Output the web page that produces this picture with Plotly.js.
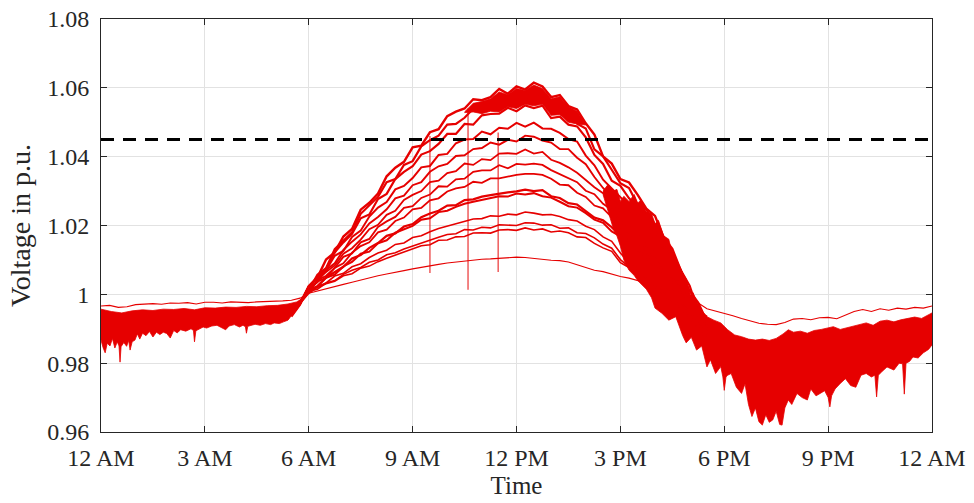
<!DOCTYPE html>
<html>
<head>
<meta charset="utf-8">
<script src="https://cdn.plot.ly/plotly-3.0.1.min.js"></script>
<style>html,body{margin:0;padding:0;background:#fff;}#chart{width:974px;height:503px;}</style>
</head>
<body>
<div id="chart"></div>
<script>
// ---------- data (hours since midnight, voltage in p.u.) ----------
const xTickVals = [0, 3, 6, 9, 12, 15, 18, 21, 24];
const xTickText = ['12 AM', '3 AM', '6 AM', '9 AM', '12 PM', '3 PM', '6 PM', '9 PM', '12 AM'];
const yTickVals = [0.96, 0.98, 1.00, 1.02, 1.04, 1.06, 1.08];
const yTickText = ['0.96', '0.98', '1', '1.02', '1.04', '1.06', '1.08'];
const voltageLimit = 1.045;

const dayT = [5.5,5.75,6,6.25,6.5,6.75,7,7.25,7.5,7.75,8,8.25,8.5,8.75,9,9.25,9.5,9.75,10,10.25,10.5,10.75,11,11.25,11.5,11.75,12,12.25,12.5,12.75,13,13.25,13.5,13.75,14,14.25,14.5,14.75,15,15.25,15.5,15.75,16,16.25,16.5,16.75,17,17.25,17.5];

const bus11 = [0.9950,0.9975,1.0023,1.0049,1.0101,1.0122,1.0168,1.0190,1.0246,1.0266,1.0293,1.0343,1.0368,1.0385,1.0427,1.0432,1.0471,1.0480,1.0518,1.0531,1.0540,1.0567,1.0564,1.0573,1.0597,1.0583,1.0604,1.0595,1.0615,1.0604,1.0573,1.0579,1.0547,1.0537,1.0497,1.0464,1.0401,1.0380,1.0335,1.0325,1.0289,1.0249,1.0228,1.0165,1.0132,1.0068,1.0010,0.9975,0.9920];
const bus10 = [0.9945,0.9978,1.0012,1.0057,1.0076,1.0131,1.0155,1.0180,1.0234,1.0258,1.0283,1.0326,1.0335,1.0376,1.0387,1.0430,1.0448,1.0461,1.0493,1.0495,1.0513,1.0539,1.0531,1.0554,1.0548,1.0574,1.0574,1.0570,1.0585,1.0559,1.0554,1.0536,1.0539,1.0496,1.0482,1.0421,1.0401,1.0362,1.0323,1.0309,1.0260,1.0247,1.0202,1.0167,1.0121,1.0069,1.0025,0.9950,0.9935];
const bus9 = [0.9940,0.9972,1.0024,1.0049,1.0074,1.0122,1.0151,1.0176,1.0221,1.0232,1.0277,1.0292,1.0335,1.0356,1.0372,1.0406,1.0416,1.0437,1.0466,1.0466,1.0495,1.0493,1.0520,1.0524,1.0525,1.0542,1.0532,1.0549,1.0541,1.0548,1.0512,1.0516,1.0493,1.0488,1.0456,1.0405,1.0379,1.0330,1.0315,1.0279,1.0256,1.0229,1.0196,1.0158,1.0114,1.0069,0.9995,0.9965,0.9905];
const bus8 = [0.9935,0.9970,1.0023,1.0049,1.0070,1.0112,1.0126,1.0167,1.0185,1.0226,1.0252,1.0268,1.0305,1.0315,1.0338,1.0369,1.0373,1.0405,1.0408,1.0439,1.0450,1.0451,1.0473,1.0465,1.0484,1.0481,1.0498,1.0487,1.0499,1.0482,1.0481,1.0469,1.0451,1.0444,1.0403,1.0375,1.0333,1.0307,1.0282,1.0257,1.0233,1.0208,1.0182,1.0140,1.0112,1.0055,0.9985,0.9955,0.9890];
const bus7 = [0.9938,0.9972,1.0020,1.0035,1.0071,1.0090,1.0129,1.0153,1.0174,1.0206,1.0225,1.0247,1.0279,1.0287,1.0317,1.0326,1.0356,1.0372,1.0379,1.0402,1.0404,1.0422,1.0425,1.0441,1.0435,1.0449,1.0444,1.0461,1.0458,1.0447,1.0441,1.0422,1.0422,1.0397,1.0378,1.0341,1.0309,1.0282,1.0259,1.0240,1.0211,1.0197,1.0161,1.0135,1.0090,1.0061,1.0000,0.9940,0.9910];
const bus6 = [0.9942,0.9974,1.0006,1.0043,1.0065,1.0084,1.0118,1.0134,1.0159,1.0189,1.0202,1.0231,1.0243,1.0274,1.0289,1.0300,1.0326,1.0330,1.0352,1.0358,1.0380,1.0376,1.0393,1.0390,1.0409,1.0410,1.0408,1.0421,1.0409,1.0414,1.0391,1.0382,1.0369,1.0353,1.0332,1.0311,1.0294,1.0263,1.0243,1.0205,1.0181,1.0143,1.0122,1.0083,1.0048,1.0031,0.9975,0.9948,0.9895];
const bus5 = [0.9948,0.9976,1.0008,1.0040,1.0054,1.0077,1.0109,1.0119,1.0151,1.0161,1.0196,1.0212,1.0225,1.0251,1.0256,1.0280,1.0290,1.0314,1.0313,1.0334,1.0336,1.0356,1.0360,1.0360,1.0375,1.0366,1.0379,1.0377,1.0380,1.0376,1.0361,1.0350,1.0338,1.0326,1.0301,1.0291,1.0263,1.0246,1.0211,1.0196,1.0163,1.0131,1.0112,1.0079,1.0046,1.0029,0.9968,0.9940,0.9880];
const bus4 = [0.9952,0.9978,1.0008,1.0037,1.0048,1.0077,1.0090,1.0121,1.0140,1.0151,1.0180,1.0188,1.0213,1.0223,1.0247,1.0251,1.0273,1.0279,1.0299,1.0308,1.0312,1.0327,1.0324,1.0337,1.0337,1.0343,1.0347,1.0350,1.0350,1.0347,1.0336,1.0319,1.0317,1.0295,1.0283,1.0258,1.0250,1.0224,1.0195,1.0180,1.0154,1.0123,1.0103,1.0065,1.0049,1.0016,0.9985,0.9925,0.9900];
const bus3 = [0.9950,0.9976,1.0011,1.0023,1.0049,1.0065,1.0080,1.0104,1.0114,1.0135,1.0149,1.0170,1.0177,1.0197,1.0204,1.0224,1.0235,1.0243,1.0258,1.0259,1.0274,1.0276,1.0284,1.0288,1.0293,1.0296,1.0299,1.0304,1.0300,1.0303,1.0285,1.0280,1.0265,1.0261,1.0242,1.0223,1.0215,1.0195,1.0170,1.0155,1.0126,1.0111,1.0081,1.0064,1.0041,1.0016,0.9978,0.9952,0.9905];
const bus3b = [0.9946,0.9975,1.0011,1.0024,1.0048,1.0057,1.0081,1.0094,1.0118,1.0124,1.0148,1.0157,1.0179,1.0190,1.0199,1.0217,1.0221,1.0239,1.0243,1.0254,1.0263,1.0269,1.0274,1.0279,1.0285,1.0284,1.0293,1.0290,1.0294,1.0285,1.0281,1.0269,1.0256,1.0252,1.0236,1.0217,1.0208,1.0183,1.0168,1.0142,1.0130,1.0107,1.0080,1.0062,1.0036,1.0016,0.9972,0.9940,0.9898];
const bus2 = [0.9955,0.9980,1.0004,1.0023,1.0033,1.0053,1.0061,1.0080,1.0089,1.0107,1.0120,1.0128,1.0145,1.0149,1.0165,1.0170,1.0182,1.0191,1.0198,1.0205,1.0212,1.0219,1.0220,1.0228,1.0227,1.0233,1.0231,1.0239,1.0236,1.0231,1.0232,1.0226,1.0217,1.0213,1.0198,1.0188,1.0167,1.0154,1.0120,1.0092,1.0074,1.0045,1.0026,1.0015,0.9990,0.9975,0.9950,0.9930,0.9885];
const bus1 = [0.9950,0.9978,1.0009,1.0015,1.0033,1.0040,1.0058,1.0070,1.0078,1.0093,1.0100,1.0115,1.0121,1.0132,1.0141,1.0150,1.0158,1.0166,1.0174,1.0176,1.0188,1.0187,1.0195,1.0193,1.0202,1.0201,1.0200,1.0208,1.0207,1.0201,1.0202,1.0192,1.0193,1.0179,1.0177,1.0164,1.0146,1.0134,1.0101,1.0080,1.0065,1.0038,1.0027,1.0007,0.9980,0.9968,0.9940,0.9915,0.9870];
const bus1b = [0.9944,0.9974,1.0003,1.0020,1.0031,1.0038,1.0054,1.0060,1.0076,1.0082,1.0095,1.0105,1.0114,1.0123,1.0131,1.0141,1.0144,1.0157,1.0158,1.0167,1.0168,1.0178,1.0179,1.0178,1.0187,1.0188,1.0186,1.0193,1.0187,1.0190,1.0181,1.0184,1.0179,1.0167,1.0165,1.0148,1.0135,1.0125,1.0092,1.0078,1.0054,1.0041,1.0022,1.0002,0.9975,0.9958,0.9930,0.9902,0.9862];

// bus closest to the substation, whole day
const bus0T = [0,0.25,0.5,0.75,1,1.25,1.5,1.75,2,2.25,2.5,2.75,3,3.25,3.5,3.75,4,4.25,4.5,4.75,5,5.25,5.5,5.75,6,6.25,6.5,6.75,7,7.25,7.5,7.75,8,8.25,8.5,8.75,9,9.25,9.5,9.75,10,10.25,10.5,10.75,11,11.25,11.5,11.75,12,12.25,12.5,12.75,13,13.25,13.5,13.75,14,14.25,14.5,14.75,15,15.25,15.5,15.75,16,16.25,16.5,16.75,17,17.25,17.5,17.75,18,18.25,18.5,18.75,19,19.25,19.5,19.75,20,20.25,20.5,20.75,21,21.25,21.5,21.75,22,22.25,22.5,22.75,23,23.25,23.5,23.75,24];
const bus0 = [0.9966,0.9968,0.9962,0.9964,0.9970,0.9972,0.9973,0.9971,0.9975,0.9974,0.9976,0.9972,0.9977,0.9977,0.9975,0.9978,0.9977,0.9976,0.9978,0.9979,0.9978,0.9981,0.9983,0.9989,1.0003,1.0010,1.0016,1.0022,1.0029,1.0035,1.0042,1.0047,1.0054,1.0059,1.0065,1.0069,1.0074,1.0079,1.0083,1.0087,1.0091,1.0094,1.0097,1.0099,1.0102,1.0103,1.0105,1.0106,1.0108,1.0107,1.0104,1.0103,1.0099,1.0098,1.0094,1.0086,1.0078,1.0070,1.0066,1.0058,1.0052,1.0047,1.0040,1.0034,1.0028,1.0020,1.0012,1.0004,0.9990,0.9975,0.9958,0.9952,0.9946,0.9938,0.9930,0.9924,0.9916,0.9913,0.9912,0.9918,0.9928,0.9930,0.9926,0.9932,0.9933,0.9929,0.9940,0.9950,0.9956,0.9950,0.9958,0.9954,0.9960,0.9957,0.9962,0.9960,0.9966];

// dense band of the remaining buses during the night (upper and lower envelope)
const nightTopT = [0,0.3,0.6,0.9,1.2,1.5,1.8,2.1,2.4,2.7,3.0,3.3,3.6,3.9,4.2,4.5,4.8,5.1,5.4,5.65,5.85];
const nightTopV = [0.9957,0.9950,0.9946,0.9952,0.9955,0.9953,0.9957,0.9956,0.9959,0.9955,0.9961,0.9960,0.9963,0.9962,0.9965,0.9964,0.9967,0.9968,0.9972,0.9978,0.9990];
const nightBotT = [0,0.06,0.12,0.18,0.26,0.33,0.4,0.47,0.52,0.55,0.58,0.66,0.74,0.8,0.84,0.9,0.98,1.05,1.12,1.2,1.3,1.4,1.5,1.6,1.7,1.8,1.9,2.0,2.1,2.2,2.3,2.45,2.6,2.67,2.7,2.74,2.85,2.95,3.05,3.2,3.35,3.5,3.6,3.7,3.85,4.0,4.1,4.17,4.2,4.24,4.3,4.45,4.6,4.75,4.9,5.0,5.15,5.27,5.4,5.55,5.7,5.85];
const nightBotV = [0.9867,0.9845,0.9830,0.9858,0.9850,0.9872,0.9844,0.9862,0.9850,0.9803,0.9848,0.9860,0.9849,0.9866,0.9838,0.9862,0.9867,0.9885,0.9870,0.9887,0.9880,0.9892,0.9876,0.9890,0.9883,0.9890,0.9886,0.9873,0.9895,0.9888,0.9897,0.9893,0.9900,0.9895,0.9862,0.9894,0.9900,0.9905,0.9902,0.9908,0.9910,0.9903,0.9897,0.9908,0.9912,0.9905,0.9910,0.9906,0.9887,0.9907,0.9908,0.9913,0.9910,0.9915,0.9912,0.9917,0.9915,0.9920,0.9925,0.9946,0.9965,0.9988];

// dense core of the most exposed buses around noon
const noonTopT = [10.5,10.75,11.0,11.25,11.5,11.75,12.0,12.25,12.5,12.75,13.0,13.25,13.5,13.75,14.0];
const noonTopV = [1.0530,1.0555,1.0560,1.0568,1.0588,1.0580,1.0598,1.0592,1.0608,1.0598,1.0568,1.0574,1.0545,1.0532,1.0495];
const noonBotT = [10.5,10.75,11.0,11.25,11.5,11.75,12.0,12.25,12.5,12.75,13.0,13.25,13.5,13.75,14.0];
const noonBotV = [1.0528,1.0530,1.0525,1.0532,1.0530,1.0545,1.0540,1.0552,1.0548,1.0552,1.0520,1.0522,1.0500,1.0495,1.0492];

// dense band of the remaining buses from the afternoon decline to midnight
const eveTopT = [14.5,14.65,14.8,14.9,15.0,15.1,15.25,15.4,15.5,15.6,15.75,15.9,16.0,16.1,16.25,16.4,16.5,16.6,16.75,16.9,17.0,17.1,17.25,17.5,17.7,17.9,18.1,18.3,18.5,18.7,18.9,19.1,19.3,19.5,19.7,19.85,20.0,20.2,20.4,20.6,20.8,21.0,21.15,21.35,21.55,21.75,21.95,22.1,22.3,22.5,22.7,22.9,23.1,23.3,23.5,23.7,23.9,24.0];
const eveTopV = [1.0300,1.0320,1.0300,1.0305,1.0270,1.0285,1.0270,1.0290,1.0265,1.0275,1.0240,1.0235,1.0205,1.0215,1.0170,1.0160,1.0115,1.0105,1.0070,1.0045,0.9995,1.0005,0.9965,0.9935,0.9925,0.9917,0.9897,0.9882,0.9877,0.9870,0.9867,0.9870,0.9866,0.9872,0.9885,0.9897,0.9890,0.9893,0.9887,0.9895,0.9898,0.9902,0.9906,0.9898,0.9903,0.9908,0.9912,0.9917,0.9910,0.9922,0.9925,0.9920,0.9926,0.9930,0.9934,0.9930,0.9940,0.9946];
const eveBotT = [14.5,14.65,14.8,14.9,15.0,15.1,15.25,15.4,15.5,15.6,15.75,15.9,16.0,16.2,16.4,16.6,16.8,16.9,17.05,17.2,17.35,17.5,17.6,17.75,17.9,17.96,18.0,18.05,18.1,18.2,18.35,18.5,18.6,18.7,18.8,18.9,19.0,19.1,19.2,19.3,19.4,19.5,19.6,19.67,19.75,19.85,19.95,20.1,20.25,20.4,20.5,20.65,20.77,20.9,21.0,21.05,21.1,21.2,21.35,21.5,21.65,21.8,21.95,22.1,22.25,22.35,22.4,22.45,22.55,22.7,22.9,23.05,23.15,23.2,23.25,23.35,23.45,23.6,23.75,23.9,24.0];
const eveBotV = [1.0290,1.0240,1.0190,1.0170,1.0140,1.0100,1.0070,1.0055,1.0040,1.0030,1.0015,0.9990,0.9960,0.9945,0.9925,0.9935,0.9880,0.9859,0.9875,0.9838,0.9850,0.9789,0.9810,0.9770,0.9790,0.9760,0.9721,0.9760,0.9765,0.9770,0.9730,0.9712,0.9740,0.9680,0.9645,0.9670,0.9630,0.9620,0.9650,0.9628,0.9635,0.9660,0.9622,0.9620,0.9670,0.9693,0.9680,0.9712,0.9700,0.9693,0.9725,0.9705,0.9712,0.9720,0.9700,0.9673,0.9705,0.9725,0.9741,0.9755,0.9735,0.9730,0.9765,0.9770,0.9760,0.9765,0.9702,0.9765,0.9775,0.9789,0.9780,0.9800,0.9798,0.9710,0.9800,0.9805,0.9818,0.9815,0.9830,0.9840,0.9853];

// short voltage dips (vertical spikes) during the day
const spikeT = [9.5, 10.6, 11.47];
const spikeHigh = [1.0460, 1.0540, 1.0470];
const spikeLow = [1.0062, 1.0013, 1.0065];

// ---------- drawing ----------
const RED = '#e60000';
const traces = [];

function band(topT, topV, botT, botV) {
  return {
    x: topT.concat(botT.slice().reverse()),
    y: topV.concat(botV.slice().reverse()),
    mode: 'lines', fill: 'toself', fillcolor: RED,
    line: {color: RED, width: 0.8}, hoverinfo: 'skip'
  };
}
traces.push(band(nightTopT, nightTopV, nightBotT, nightBotV));
traces.push(band(eveTopT, eveTopV, eveBotT, eveBotV));
traces.push(band(noonTopT, noonTopV, noonBotT, noonBotV));

const busLines = [
  [bus11, 2.4], [bus10, 2.2], [bus9, 2.2], [bus8, 2.0], [bus7, 1.9], [bus6, 1.8],
  [bus5, 1.8], [bus4, 1.8], [bus3, 2.2], [bus3b, 2.0], [bus2, 1.6], [bus1, 1.6], [bus1b, 1.6]
];
busLines.forEach(([v, w]) => traces.push({x: dayT, y: v, mode: 'lines', line: {color: RED, width: w}, hoverinfo: 'skip'}));
traces.push({x: bus0T, y: bus0, mode: 'lines', line: {color: RED, width: 1.1}, hoverinfo: 'skip'});

const sx = [], sy = [];
spikeT.forEach((t, i) => { sx.push(t, t, null); sy.push(spikeHigh[i], spikeLow[i], null); });
traces.push({x: sx, y: sy, mode: 'lines', line: {color: RED, width: 1.2}, opacity: 0.8, hoverinfo: 'skip'});

traces.push({x: [0, 24], y: [voltageLimit, voltageLimit], mode: 'lines',
  line: {color: '#000000', width: 3, dash: '13px,9px'}, hoverinfo: 'skip'});

const AX = '#262626';
const FONT = '"Liberation Serif", "Times New Roman", serif';
const axisCommon = {
  showline: true, linecolor: AX, linewidth: 1, mirror: 'ticks',
  ticks: 'inside', ticklen: 6, tickwidth: 1, tickcolor: AX,
  showgrid: true, gridcolor: '#e2e2e2', gridwidth: 1, zeroline: false,
  tickfont: {family: FONT, size: 24, color: AX}
};

const layout = {
  width: 974, height: 503,
  margin: {l: 101, r: 42, t: 19, b: 71, pad: 0},
  paper_bgcolor: '#ffffff', plot_bgcolor: '#ffffff',
  showlegend: false,
  font: {family: FONT, color: AX},
  xaxis: Object.assign({}, axisCommon, {
    range: [0, 24], tickmode: 'array', tickvals: xTickVals, ticktext: xTickText,
    ticklabelstandoff: 4,
    title: {text: 'Time', font: {family: FONT, size: 25, color: AX}, standoff: 6}
  }),
  yaxis: Object.assign({}, axisCommon, {
    range: [0.96, 1.08], tickmode: 'array', tickvals: yTickVals, ticktext: yTickText,
    ticklabelstandoff: 6,
    title: {text: 'Voltage in p.u.', font: {family: FONT, size: 28, color: AX}, standoff: 8}
  })
};

Plotly.newPlot('chart', traces, layout, {staticPlot: true, displayModeBar: false});
</script>
</body>
</html>
